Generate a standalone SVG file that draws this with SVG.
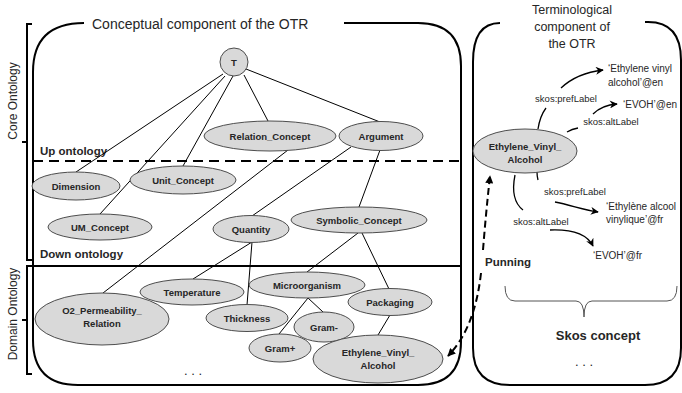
<svg xmlns="http://www.w3.org/2000/svg" width="682" height="393" viewBox="0 0 682 393">
<style>
.panel{fill:none;stroke:#000;stroke-width:2}
.br{fill:none;stroke:#000;stroke-width:2}
.edge{fill:none;stroke:#000;stroke-width:1}
.node ellipse,.node circle{fill:#d9d9d9;stroke:#4d4d4d;stroke-width:1}
.nl{font-family:"Liberation Sans",Arial,sans-serif;font-weight:bold;font-size:9.5px;fill:#262626;text-anchor:middle}
.t{font-family:"Liberation Sans",Arial,sans-serif;fill:#262626}
.b{font-weight:bold}
.sk{font-family:"Liberation Sans",Arial,sans-serif;font-size:9.5px;fill:#262626;text-anchor:middle}
.term{font-family:"Liberation Sans",Arial,sans-serif;font-size:10px;fill:#262626}
.arr{fill:none;stroke:#000;stroke-width:1.3}
.pun{fill:none;stroke:#000;stroke-width:2;stroke-dasharray:7,4}
</style>
<defs>
<marker id="ah" viewBox="0 0 10 10" refX="9" refY="5" markerUnits="userSpaceOnUse" markerWidth="10" markerHeight="8" orient="auto">
<path d="M0,0 L10,5 L0,10 L3,5 Z" fill="#000"/>
</marker>
<marker id="ahp" viewBox="0 0 10 10" refX="9" refY="5" markerUnits="userSpaceOnUse" markerWidth="9" markerHeight="8" orient="auto">
<path d="M0,0 L10,5 L0,10 Z" fill="#000"/>
</marker>
</defs>

<!-- panels -->
<g id="conceptual-panel">
<path class="panel" d="M344,23 H418 Q461,23 461,66 V342 Q461,385 418,385 H78 Q33,385 33,340 V72 Q33,23 84,23"/>
<text class="t" x="92" y="29" font-size="14">Conceptual component of the OTR</text>
<line x1="33" y1="161" x2="461" y2="161" stroke="#000" stroke-width="2" stroke-dasharray="10,6"/>
<line x1="33" y1="266" x2="461" y2="266" stroke="#000" stroke-width="2"/>
<text class="t b" x="40" y="155" font-size="11.5">Up ontology</text>
<text class="t b" x="40" y="258" font-size="11.5">Down ontology</text>
<text class="t" x="193" y="375" font-size="13" text-anchor="middle">. . .</text>
</g>

<g id="terminological-panel">
<path class="panel" d="M645,22 H648 Q681,22 681,60 V348 Q681,385 645,385 H510 Q473,385 473,348 V62 Q473,23 500,23"/>
<text class="t" font-size="12.5" text-anchor="middle"><tspan x="572" y="14">Terminological</tspan><tspan x="572" y="31">component of</tspan><tspan x="572" y="48">the OTR</tspan></text>
<path d="M505,286 Q505,301 515,301 H576 Q584,301 584,317 Q584,301 592,301 H667 Q677,301 677,286" fill="none" stroke="#555" stroke-width="1"/>
<text class="t b" x="598" y="340" font-size="13" text-anchor="middle">Skos concept</text>
<text class="t" x="584" y="366" font-size="13" text-anchor="middle">. . .</text>
</g>

<!-- brackets -->
<g id="core-bracket">
<path class="br" d="M32,24 H27 V260 H32 M27,142 H22"/>
<text class="t" font-size="12" transform="translate(17,101) rotate(-90)" text-anchor="middle">Core Ontology</text>
</g>
<g id="domain-bracket">
<path class="br" d="M32,266 H27 V374 H32 M27,320 H22"/>
<text class="t" font-size="12" transform="translate(17,314) rotate(-90)" text-anchor="middle">Domain Ontology</text>
</g>

<!-- connectors -->
<g id="connectors">
<line class="edge" x1="223" y1="74" x2="76" y2="172"/>
<line class="edge" x1="225" y1="76" x2="100" y2="214"/>
<line class="edge" x1="233" y1="76" x2="183" y2="166"/>
<line class="edge" x1="244" y1="75" x2="268" y2="121"/>
<line class="edge" x1="246" y1="69" x2="380" y2="122"/>
<line class="edge" x1="288" y1="150" x2="103" y2="293"/>
<line class="edge" x1="351" y1="147" x2="252" y2="216"/>
<line class="edge" x1="380" y1="150" x2="359" y2="207"/>
<line class="edge" x1="252" y1="242" x2="193" y2="279"/>
<line class="edge" x1="252" y1="242" x2="247" y2="305"/>
<line class="edge" x1="358" y1="233" x2="307" y2="272"/>
<line class="edge" x1="362" y1="233" x2="389" y2="289"/>
<line class="edge" x1="308" y1="298" x2="279" y2="334"/>
<line class="edge" x1="308" y1="298" x2="323" y2="312"/>
<line class="edge" x1="390" y1="315" x2="378" y2="335"/>

<!-- skos relations -->
<path class="arr" d="M538,129 Q540,116 546,108"/>
<path class="arr" d="M561,88 Q577,73 603,70" marker-end="url(#ah)"/>
<path class="arr" d="M567,132 Q572,129 578,128"/>
<path class="arr" d="M593,114 Q602,105 617,104" marker-end="url(#ah)"/>
<path class="arr" d="M537,172 Q537,176 538,180"/>
<path class="arr" d="M555,202 C570,205 585,210 598,212" marker-end="url(#ah)"/>
<path class="arr" d="M515,175 Q510,200 523,210"/>
<path class="arr" d="M550,230 C575,229 588,236 593,246" marker-end="url(#ah)"/>

<!-- punning -->
<path class="pun" d="M483,250 Q486,212 490,176" marker-end="url(#ahp)"/>
<path class="pun" d="M481,273 Q475,328 448,356" marker-end="url(#ahp)"/>
</g>

<!-- relation labels -->
<g id="labels">
<text class="sk" x="566" y="102">skos:prefLabel</text>
<text class="sk" x="611" y="125">skos:altLabel</text>
<text class="sk" x="575" y="195">skos:prefLabel</text>
<text class="sk" x="541" y="225">skos:altLabel</text>
<text class="t b" x="485" y="266" font-size="11.5">Punning</text>
<text class="term" x="608" y="72">‘Ethylene vinyl</text>
<text class="term" x="608" y="86">alcohol’@en</text>
<text class="term" x="623" y="108">‘EVOH’@en</text>
<text class="term" x="606" y="210">‘Ethylène alcool</text>
<text class="term" x="606" y="223">vinylique’@fr</text>
<text class="term" x="593" y="259">‘EVOH’@fr</text>
</g>

<!-- nodes -->
<g id="n-T" class="node"><circle cx="234" cy="62" r="14"/><text class="nl" x="234" y="65.5">T</text></g>
<g id="n-relation" class="node"><ellipse cx="270" cy="136" rx="66" ry="15"/><text class="nl" x="270" y="139.5">Relation_Concept</text></g>
<g id="n-argument" class="node"><ellipse cx="381" cy="136" rx="42" ry="14.5"/><text class="nl" x="381" y="139.5">Argument</text></g>
<g id="n-dimension" class="node"><ellipse cx="76" cy="186" rx="44" ry="14"/><text class="nl" x="76" y="189.5">Dimension</text></g>
<g id="n-unit" class="node"><ellipse cx="183" cy="180" rx="53" ry="14"/><text class="nl" x="183" y="183.5">Unit_Concept</text></g>
<g id="n-um" class="node"><ellipse cx="100" cy="227" rx="52" ry="13"/><text class="nl" x="100" y="230.5">UM_Concept</text></g>
<g id="n-quantity" class="node"><ellipse cx="251" cy="229" rx="38" ry="13.5"/><text class="nl" x="251" y="232.5">Quantity</text></g>
<g id="n-symbolic" class="node"><ellipse cx="359" cy="220" rx="68" ry="13"/><text class="nl" x="359" y="223.5">Symbolic_Concept</text></g>
<g id="n-temperature" class="node"><ellipse cx="192" cy="292" rx="52" ry="13"/><text class="nl" x="192" y="295.5">Temperature</text></g>
<g id="n-micro" class="node"><ellipse cx="307" cy="285" rx="58" ry="13"/><text class="nl" x="307" y="288.5">Microorganism</text></g>
<g id="n-packaging" class="node"><ellipse cx="390" cy="302" rx="42" ry="13.5"/><text class="nl" x="390" y="305.5">Packaging</text></g>
<g id="n-o2" class="node"><ellipse cx="102" cy="319" rx="67" ry="26"/><text class="nl"><tspan x="102" y="314">O2_Permeability_</tspan><tspan x="102" y="327">Relation</tspan></text></g>
<g id="n-thickness" class="node"><ellipse cx="247" cy="318" rx="41" ry="13.5"/><text class="nl" x="247" y="321.5">Thickness</text></g>
<g id="n-gramminus" class="node"><ellipse cx="324" cy="327" rx="30" ry="15"/><text class="nl" x="324" y="330.5">Gram-</text></g>
<g id="n-gramplus" class="node"><ellipse cx="280" cy="348" rx="31" ry="14"/><text class="nl" x="280" y="351.5">Gram+</text></g>
<g id="n-eva-left" class="node"><ellipse cx="378" cy="359" rx="65" ry="24"/><text class="nl"><tspan x="378" y="356">Ethylene_Vinyl_</tspan><tspan x="378" y="369">Alcohol</tspan></text></g>
<g id="n-eva-right" class="node"><ellipse cx="525" cy="151" rx="52" ry="22"/><text class="nl"><tspan x="525" y="150">Ethylene_Vinyl_</tspan><tspan x="525" y="163">Alcohol</tspan></text></g>
</svg>
